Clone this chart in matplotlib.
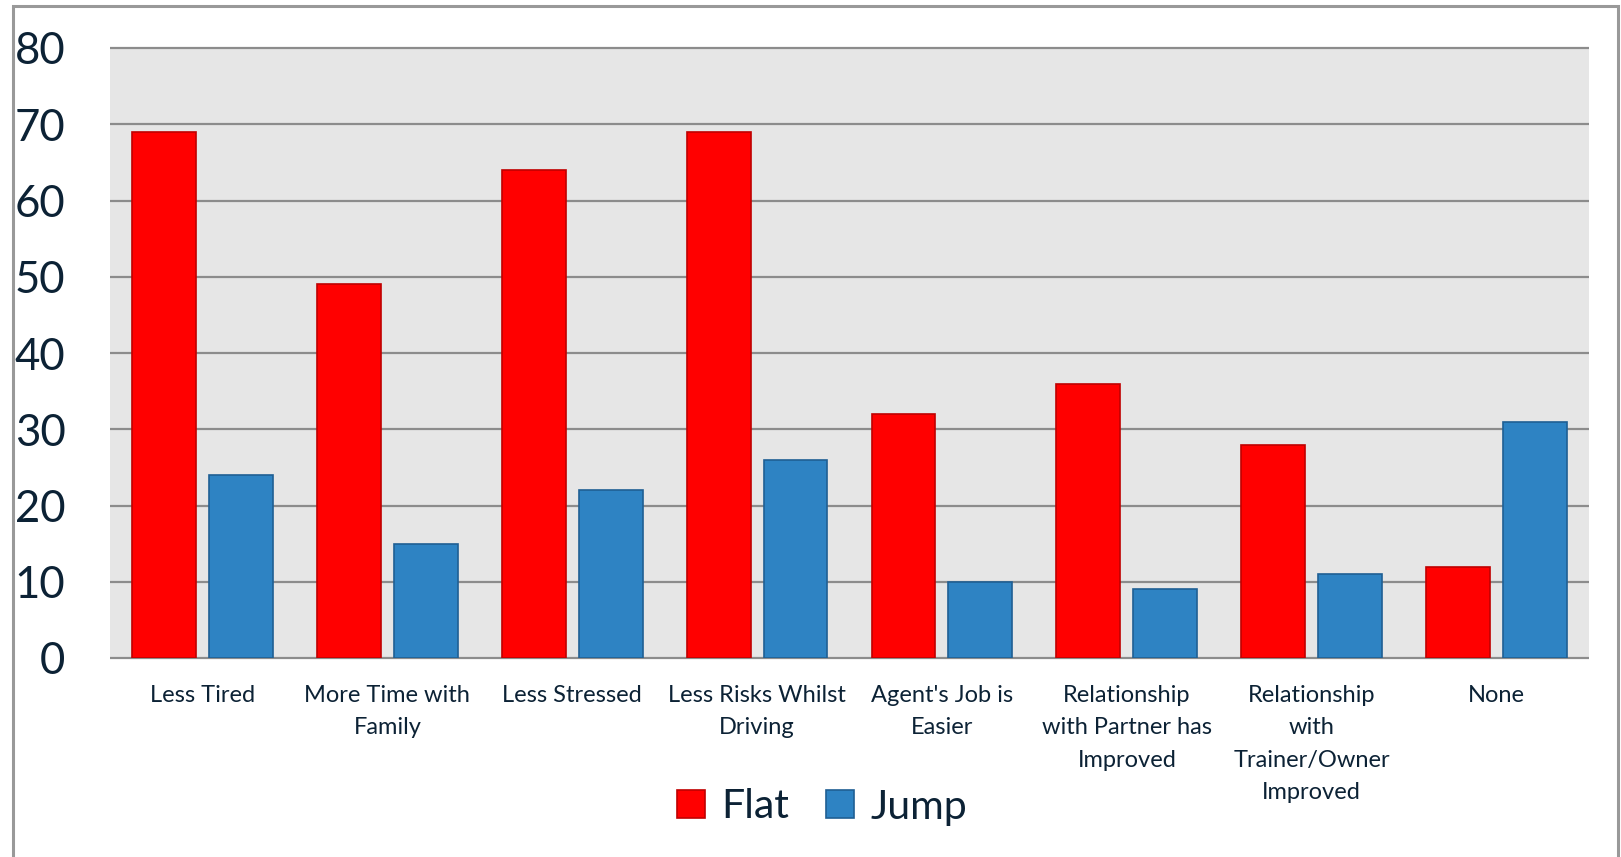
import numpy as np
import matplotlib
matplotlib.use("Agg")
from matplotlib import pyplot as plt
from matplotlib.patches import Rectangle

# survey answers: perceived benefits, by racing code
categories = [
	"Less Tired",
	"More Time with\nFamily",
	"Less Stressed",
	"Less Risks Whilst\nDriving",
	"Agent's Job is\nEasier",
	"Relationship\nwith Partner has\nImproved",
	"Relationship\nwith\nTrainer/Owner\nImproved",
	"None",
]
flat = [69, 49, 64, 69, 32, 36, 28, 12]
jump = [24, 15, 22, 26, 10, 9, 11, 31]
y_ticks = [0, 10, 20, 30, 40, 50, 60, 70, 80]

TEXT = "#0c2235"
GRID = "#8c8c8c"

plt.rcParams['font.family'] = ['Lato', 'DejaVu Sans']

fig = plt.figure(figsize=(16.21, 8.57), dpi=100)
ax = fig.add_axes([110/1621, 1 - 658/857, 1479/1621, 610/857])
ax.set_facecolor("#e6e6e6")

x = np.arange(len(categories))
w = 0.346
off = 0.208

# horizontal gridlines drawn under the bars, not clipped at the edges
ax.hlines(y_ticks, -0.5, len(categories) - 0.5, colors=GRID, linewidth=1.6,
	zorder=1, clip_on=False)

ax.bar(x - off, flat, w, color="#ff0000", edgecolor="#c00000", linewidth=1.2,
	label="Flat", zorder=2)
ax.bar(x + off, jump, w, color="#2e83c3", edgecolor="#1f5f94", linewidth=1.2,
	label="Jump", zorder=2)

ax.set_xlim(-0.5, len(categories) - 0.5)
ax.set_ylim(0, 80)
ax.set_yticks(y_ticks)
ax.set_xticks(x)
ax.set_xticklabels(categories, fontsize=17, color=TEXT, linespacing=1.66,
	va="top")
ax.tick_params(axis="x", length=0, pad=19.5)
ax.tick_params(axis="y", length=0, pad=32, labelsize=31.5, labelcolor=TEXT)
for s in ax.spines.values():
	s.set_visible(False)

leg = fig.legend(loc="center", bbox_to_anchor=(822/1621, 1 - 807/857), ncol=2,
	frameon=False, fontsize=29.5, handlelength=0.68, handleheight=0.68,
	handletextpad=0.4, columnspacing=0.9)
for t in leg.get_texts():
	t.set_color(TEXT)

# outer frame around the chart
fig.add_artist(Rectangle((13/1621, -0.05), (1618 - 13)/1621, 1.05 - 6/857,
	transform=fig.transFigure, fill=False, edgecolor="#999999", linewidth=2.2))

fig.savefig("out.png", dpi=100)
